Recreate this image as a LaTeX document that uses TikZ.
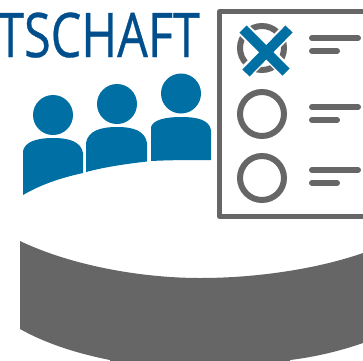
\documentclass[tikz,border=0pt]{standalone}
\usepackage{fontspec}
\setmainfont{Open Sans}
\newfontfamily\titlefont[FakeBold=0.6]{Open Sans}
\definecolor{textblue}{HTML}{004F8C}
\definecolor{peopleblue}{HTML}{006FA3}
\definecolor{formgray}{HTML}{666666}
\tikzset{
  person/.style={fill=peopleblue,draw=none},
  ring/.style={draw=formgray,line width=6pt,fill=none},
  bar/.style={draw=formgray,line width=6pt,line cap=round},
  crossarm/.style={draw=peopleblue,line width=10pt}
}
\begin{document}
\begin{tikzpicture}[x=1pt,y=-1pt]
\useasboundingbox (0,0) rectangle (363,360);
\clip (0,0) rectangle (363,360);
\fill[white] (0,0) rectangle (363,360);
% heading
\node[anchor=base west,inner sep=0pt,text=textblue,xscale=0.79,yscale=1] (title) at (-3,57) {\fontsize{61.5}{61.5}\selectfont\titlefont TSCHAFT};
% people
\fill[person] (53,115) circle (20);
\fill[person] (117,104) circle (20);
\fill[person] (181,93.5) circle (20);
\fill[person] (23,151) .. controls (25,142) and (36,138) .. (53,138) .. controls (70,138) and (81,142) .. (83,153) -- (83,173) .. controls (60,178) and (40,185) .. (23,195) -- cycle;
\fill[person] (86,143) .. controls (88,131) and (100,127) .. (117,127) .. controls (134,127) and (145,131) .. (147,143) -- (147,161.5) .. controls (125,164) and (105,167) .. (86,172) -- cycle;
\fill[person] (151,127) .. controls (153,120) and (165,117) .. (181,117) .. controls (198,117) and (209,120) .. (211,130) -- (211,160) .. controls (190,160) and (170,160) .. (151,161) -- cycle;
% form
\draw[draw=formgray,line width=5pt,line join=round] (370,11.5) -- (219.5,11.5) -- (219.5,216.5) -- (370,216.5);
\draw[ring] (262,48) circle (22);
\draw[ring] (262,114) circle (22);
\draw[ring] (262,178) circle (22);
\draw[draw=white,line width=14pt] (244,30) -- (287,72) (288,30) -- (246,72);
\draw[crossarm] (243,29) -- (286,72) (289,29) -- (246,73);
\draw[bar] (312,38) -- (358,38);
\draw[bar] (312,51) -- (337,51);
\draw[bar] (312,107) -- (358,107);
\draw[bar] (312,120) -- (337,120);
\draw[bar] (312,170) -- (358,170);
\draw[bar] (312,183) -- (337,183);
% base
\fill[formgray] (20,241) .. controls (70,265) and (140,278) .. (200,278) .. controls (260,278) and (320,268) .. (363,253) -- (363,343) .. controls (340,351) and (315,357) .. (290,360) -- (290,365) -- (110,365) -- (110,360) .. controls (75,353) and (45,343) .. (20,329) -- cycle;
\end{tikzpicture}
\end{document}
